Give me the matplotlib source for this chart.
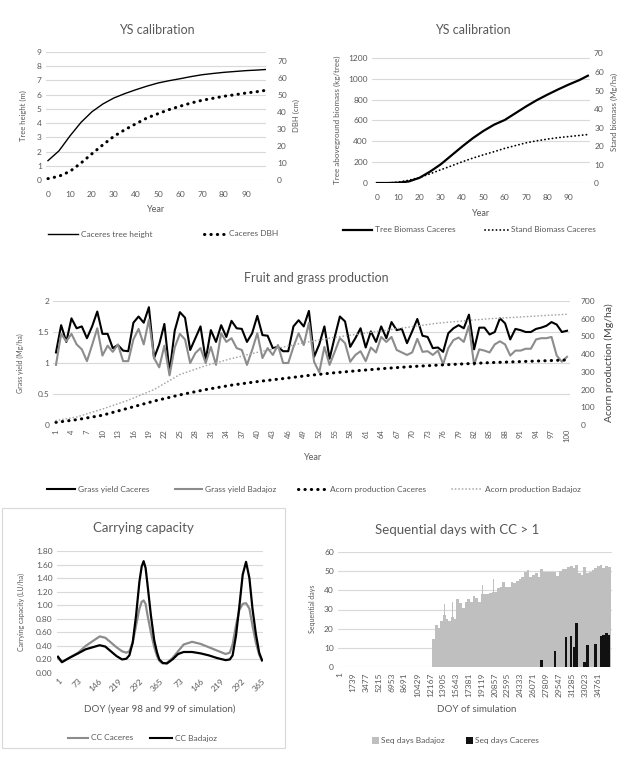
import matplotlib.pyplot as plt
from matplotlib.lines import Line2D
from matplotlib.patches import Rectangle

# ---- data ----
# YS calibration (Caceres)
cal_year = [0, 5, 10, 15, 20, 25, 30, 35, 40, 45, 50, 55, 60, 65, 70, 75, 80, 85, 90, 95, 99]
tree_height = [1.36, 2.05, 3.1, 4.05, 4.8, 5.35, 5.77, 6.08, 6.35, 6.6, 6.82, 6.98, 7.12, 7.27, 7.4,
               7.49, 7.57, 7.63, 7.69, 7.73, 7.77]
dbh = [0.8, 2.2, 5.1, 10, 15.5, 20.8, 25.8, 29.7, 33.2, 36.6, 39.1, 41.5, 43.5, 45.4, 47, 48.2,
       49.4, 50.3, 51.3, 52.1, 52.9]
tree_biomass = [0, 0, 3, 15, 50, 110, 180, 265, 350, 430, 500, 560, 605, 670, 735, 795, 848, 898,
                945, 988, 1030]
stand_biomass = [0, 0, 0.5, 1.5, 3, 5, 7.2, 9.3, 11.5, 13.5, 15.3, 17, 18.8, 20.3, 21.8, 22.9,
                 23.8, 24.6, 25.2, 25.8, 26.3]

# Fruit and grass production
years = list(range(1, 101))
grass_caceres = [1.17, 1.61, 1.34, 1.72, 1.56, 1.59, 1.40, 1.59, 1.83, 1.47,
                 1.47, 1.24, 1.29, 1.20, 1.19, 1.65, 1.75, 1.65, 1.90, 1.08,
                 1.30, 1.63, 0.85, 1.52, 1.82, 1.73, 1.21, 1.40, 1.59, 1.05,
                 1.53, 1.34, 1.61, 1.42, 1.68, 1.56, 1.55, 1.34, 1.48, 1.76,
                 1.45, 1.44, 1.24, 1.26, 1.19, 1.19, 1.59, 1.69, 1.59, 1.84,
                 1.10, 1.30, 1.59, 1.07, 1.42, 1.75, 1.67, 1.26, 1.40, 1.56,
                 1.25, 1.51, 1.34, 1.59, 1.40, 1.66, 1.53, 1.55, 1.32, 1.51,
                 1.71, 1.44, 1.42, 1.24, 1.25, 1.18, 1.48, 1.56, 1.61, 1.56,
                 1.78, 1.22, 1.57, 1.57, 1.46, 1.50, 1.72, 1.64, 1.38, 1.55,
                 1.53, 1.50, 1.50, 1.55, 1.57, 1.60, 1.66, 1.62, 1.50, 1.52]
grass_badajoz = [0.97, 1.47, 1.35, 1.47, 1.30, 1.22, 1.03, 1.29, 1.56, 1.12,
                 1.28, 1.18, 1.30, 1.03, 1.03, 1.38, 1.55, 1.30, 1.70, 1.08,
                 0.93, 1.28, 0.80, 1.25, 1.47, 1.38, 1.00, 1.16, 1.24, 1.00,
                 1.26, 0.97, 1.48, 1.34, 1.40, 1.24, 1.21, 0.97, 1.21, 1.48,
                 1.08, 1.24, 1.13, 1.29, 1.00, 1.00, 1.26, 1.48, 1.29, 1.65,
                 1.02, 0.85, 1.26, 0.97, 1.18, 1.40, 1.32, 1.02, 1.13, 1.19,
                 1.03, 1.25, 1.17, 1.42, 1.34, 1.42, 1.21, 1.17, 1.13, 1.17,
                 1.39, 1.18, 1.19, 1.13, 1.20, 0.98, 1.24, 1.37, 1.41, 1.34,
                 1.60, 0.97, 1.22, 1.20, 1.17, 1.30, 1.35, 1.30, 1.12, 1.20,
                 1.20, 1.23, 1.23, 1.38, 1.40, 1.40, 1.42, 1.12, 1.02, 1.10]
acorn_year = [1, 5, 10, 15, 20, 25, 30, 35, 40, 45, 50, 55, 60, 65, 70, 75, 80, 85, 90, 95, 100]
acorn_caceres = [15, 30, 55, 95, 135, 170, 200, 225, 245, 262, 280, 295, 308, 320, 330, 338, 345,
                 352, 357, 362, 367]
acorn_badajoz = [25, 45, 90, 140, 200, 285, 335, 375, 410, 440, 470, 495, 515, 535, 555, 575, 588,
                 600, 608, 617, 625]

# Carrying capacity, days of years 98-99
cc_day = [1, 15, 40, 73, 100, 125, 150, 170, 190, 210, 230, 245, 256, 268, 280, 292, 300, 307,
          314, 321, 333, 345, 355, 363, 375, 390, 410, 430, 450, 480, 510, 540, 570, 600, 615,
          625, 637, 649, 661, 673, 685, 696, 708, 720, 730]
cc_caceres = [0.22, 0.16, 0.22, 0.30, 0.40, 0.47, 0.54, 0.52, 0.45, 0.38, 0.32, 0.30, 0.32, 0.45,
              0.70, 0.95, 1.05, 1.07, 1.02, 0.85, 0.60, 0.38, 0.25, 0.18, 0.14, 0.15, 0.22, 0.32,
              0.42, 0.46, 0.43, 0.38, 0.33, 0.28, 0.30, 0.42, 0.70, 0.93, 1.02, 1.03, 0.95, 0.70,
              0.45, 0.27, 0.18]
cc_badajoz = [0.24, 0.16, 0.22, 0.29, 0.35, 0.38, 0.41, 0.39, 0.32, 0.25, 0.20, 0.21, 0.26, 0.45,
              0.85, 1.35, 1.57, 1.65, 1.55, 1.30, 0.85, 0.48, 0.30, 0.20, 0.15, 0.14, 0.20, 0.28,
              0.31, 0.31, 0.29, 0.26, 0.22, 0.19, 0.20, 0.26, 0.55, 0.98, 1.45, 1.64, 1.40, 0.95,
              0.58, 0.30, 0.19]
cc_tick_day = [1, 73, 146, 219, 292, 365, 438, 511, 584, 657, 730]
cc_tick_lab = ['1', '73', '146', '219', '292', '365', '73', '146', '219', '292', '365']

# Sequential days with CC > 1 (simulation year index -> level)
seq_year_bad = list(range(34, 100))
seq_bad = [14.5, 21.8, 20.5, 24, 27, 25, 24, 26, 25, 35.5, 33.5, 31, 34, 35.5, 34, 37, 36, 34,
           38, 38, 38, 38.5, 39, 39, 41, 42, 44.5, 42, 42, 44.5, 43.6, 45, 46, 47, 49.5, 50.5,
           47, 48, 49, 47, 51, 49.5, 49.5, 49.5, 49.5, 49.5, 47.5, 50, 51, 51, 52, 52.5, 51.5,
           53, 49, 48, 52, 49, 49.5, 50.5, 51.5, 52.5, 53, 51.5, 52.5, 52]
spike_day_bad = [14039, 15152, 19163, 19965, 20724]
spike_bad = [33, 34, 43, 43.6, 46]
seq_year_cac = [74, 79, 83, 85, 86, 87, 90, 91, 94, 96, 97, 98, 99]
seq_cac = [3.5, 8.2, 15.7, 16.2, 10.5, 23.2, 2.6, 11.3, 12.2, 16.2, 16.5, 17.5, 16.6]
seq_ticks = list(range(1, 36000, 1738))

# ---- layout helpers (pixel coordinates of the 633x759 picture) ----
W, H = 633, 759
TXT = '#595959'
GRID = '#d9d9d9'
GRAY = '#8c8c8c'
plt.rcParams['font.family'] = ['Lato', 'DejaVu Sans']

fig = plt.figure(figsize=(W / 100, H / 100), dpi=100)


def box(l, t, r, b):
    return fig.add_axes([l / W, 1 - b / H, (r - l) / W, (b - t) / H])


def ftext(x, y, s, size=6, **kw):
    kw.setdefault('color', TXT)
    kw.setdefault('ha', 'center')
    kw.setdefault('va', 'center')
    fig.text(x / W, 1 - y / H, s, fontsize=size, **kw)


def style(ax, grid=True):
    for s in ax.spines.values():
        s.set_visible(False)
    ax.tick_params(length=0, colors=TXT, labelsize=6, pad=3)
    if grid:
        ax.grid(axis='y', color=GRID, lw=0.8)
        ax.set_axisbelow(True)


def leg_line(x0, x1, y, label, **kw):
    fig.add_artist(Line2D([x0 / W, x1 / W], [1 - y / H, 1 - y / H],
                          transform=fig.transFigure, **kw))
    ftext(x1 + 3, y, label, ha='left')


def leg_box(x, y, label, color):
    fig.add_artist(Rectangle((x / W, 1 - (y + 3.5) / H), 7 / W, 7 / H,
                             transform=fig.transFigure, color=color, lw=0))
    ftext(x + 9, y, label, ha='left')


DOT = dict(linestyle=(0, (0.1, 2)), dash_capstyle='round')

# ---- panel 1: tree height / DBH ----
ax = box(46, 52, 266, 180)
style(ax)
ax.plot(cal_year, tree_height, color='black', lw=1)
ax.set_xlim(-0.9, 99.1)
ax.set_ylim(0, 9)
ax.set_yticks(range(10))
ax.set_xticks(range(0, 100, 10))
ax.tick_params(axis='x', pad=8)
axr = ax.twinx()
style(axr, grid=False)
axr.plot(cal_year, dbh, color='black', lw=2.2, **DOT)
axr.set_ylim(0, 75.5)
axr.set_yticks(range(0, 80, 10))
axr.tick_params(axis='y', pad=8)
ftext(157, 30, 'YS calibration', size=9)
ftext(156, 210, 'Year', size=6.5)
ftext(23, 116, 'Tree height (m)', size=5.5, rotation=90)
ftext(296, 116, 'DBH (cm)', size=5.5, rotation=90)
leg_line(48, 78, 234, 'Caceres tree height', color='black', lw=1)
leg_line(204, 226, 234, 'Caceres DBH', color='black', lw=2.2, **DOT)

# ---- panel 2: biomass ----
ax = box(372, 55, 590, 183)
style(ax)
ax.plot(cal_year, tree_biomass, color='black', lw=1.6)
ax.set_xlim(-2.3, 100)
ax.set_ylim(0, 1200 * 128 / 125)
ax.set_yticks(range(0, 1400, 200))
ax.set_xticks(range(0, 100, 10))
ax.tick_params(axis='x', pad=8)
axr = ax.twinx()
style(axr, grid=False)
axr.plot(cal_year, stand_biomass, color='black', lw=1.3, **DOT)
axr.set_ylim(0, 70 * 128 / 129)
axr.set_yticks(range(0, 70, 10))
axr.tick_params(axis='y', pad=3)
ftext(594, 53, '70', ha='left')
ftext(473, 30, 'YS calibration', size=9)
ftext(481, 213, 'Year', size=6.5)
ftext(337, 120, 'Tree aboveground biomass (kg/tree)', size=5.8, rotation=90)
ftext(614, 112, 'Stand biomass (Mg/ha)', size=5.6, rotation=90)
leg_line(343, 372, 230, 'Tree Biomass Caceres', color='black', lw=1.6)
leg_line(485, 508, 230, 'Stand Biomass Caceres', color='black', lw=1.3, **DOT)

# ---- panel 3: fruit and grass production ----
ax = box(53.4, 301, 569.6, 425)
style(ax)
ax.plot(years, grass_caceres, color='black', lw=1.5)
ax.plot(years, grass_badajoz, color=GRAY, lw=1.5)
ax.set_xlim(0.5, 100.5)
ax.set_ylim(0, 2)
ax.set_yticks([0, 0.5, 1, 1.5, 2])
ax.set_yticklabels(['0', '0.5', '1', '1.5', '2'])
ax.set_xticks(range(1, 101, 3))
ax.tick_params(axis='x', rotation=90, labelsize=5.5, pad=3)
axr = ax.twinx()
style(axr, grid=False)
axr.plot(acorn_year, acorn_caceres, color='black', lw=2.2, **DOT)
axr.plot(acorn_year, acorn_badajoz, color='#a6a6a6', lw=1.2, **DOT)
axr.set_ylim(0, 700)
axr.set_yticks(range(0, 800, 100))
axr.tick_params(axis='y', pad=8)
ftext(316, 278, 'Fruit and grass production', size=9)
ftext(313, 458, 'Year', size=6.5)
ftext(20, 363, 'Grass yield (Mg/ha)', size=5, rotation=90)
ftext(609, 363, 'Acorn production (Mg/ha)', size=7.5, rotation=90, color='#404040')
leg_line(47, 75, 489, 'Grass yield Caceres', color='black', lw=1.5)
leg_line(175, 202, 489, 'Grass yield Badajoz', color=GRAY, lw=1.5)
leg_line(298, 327, 489, 'Acorn production Caceres', color='black', lw=2.2, **DOT)
leg_line(452, 482, 489, 'Acorn production Badajoz', color='#a6a6a6', lw=1.2, **DOT)

# ---- panel 4: carrying capacity ----
fig.add_artist(Rectangle((2 / W, 1 - 748 / H), 283 / W, 240 / H, transform=fig.transFigure,
                         fill=False, ec=GRID, lw=0.8))
ax = box(57, 551, 263, 673)
style(ax)
ax.plot(cc_day, cc_caceres, color=GRAY, lw=1.6)
ax.plot(cc_day, cc_badajoz, color='black', lw=1.6)
ax.set_xlim(-2.6, 733.6)
ax.set_ylim(0, 1.8)
ax.set_yticks([i * 0.2 for i in range(10)])
ax.set_yticklabels(['%.2f' % (i * 0.2) for i in range(10)])
ax.set_xticks(cc_tick_day)
ax.set_xticklabels(cc_tick_lab, rotation=45, ha='right', rotation_mode='anchor')
ftext(143, 528, 'Carrying capacity', size=9.5)
ftext(160, 709, 'DOY (year 98 and 99 of simulation)', size=7)
ftext(21, 612, 'Carrying capacity (LU/ha)', size=5, rotation=90)
leg_line(68, 88, 738, 'CC Caceres', color=GRAY, lw=1.5)
leg_line(150, 172, 738, 'CC Badajoz', color='black', lw=1.5)

# ---- panel 5: sequential days with CC > 1 ----
ax = box(338, 552, 612, 667)
style(ax)
ax.bar([y * 365 for y in seq_year_bad], seq_bad, width=365, align='edge', color='#bfbfbf', lw=0)
ax.bar(spike_day_bad, spike_bad, width=110, color='#bfbfbf', lw=0)
ax.bar([y * 365 for y in seq_year_cac], seq_cac, width=330, align='edge', color='#111111', lw=0)
ax.set_xlim(-300, 36700)
ax.set_ylim(0, 60)
ax.set_yticks(range(0, 70, 10))
ax.set_xticks(seq_ticks)
ax.tick_params(axis='x', rotation=90, pad=4)
ftext(457, 530, 'Sequential days with CC > 1', size=9.5)
ftext(477, 710, 'DOY of simulation', size=7)
ftext(312, 609, 'Sequential days', size=5, rotation=90)
leg_box(372, 740, 'Seq days Badajoz', '#bfbfbf')
leg_box(466, 740, 'Seq days Caceres', '#111111')

fig.savefig('out.png', dpi=100)
